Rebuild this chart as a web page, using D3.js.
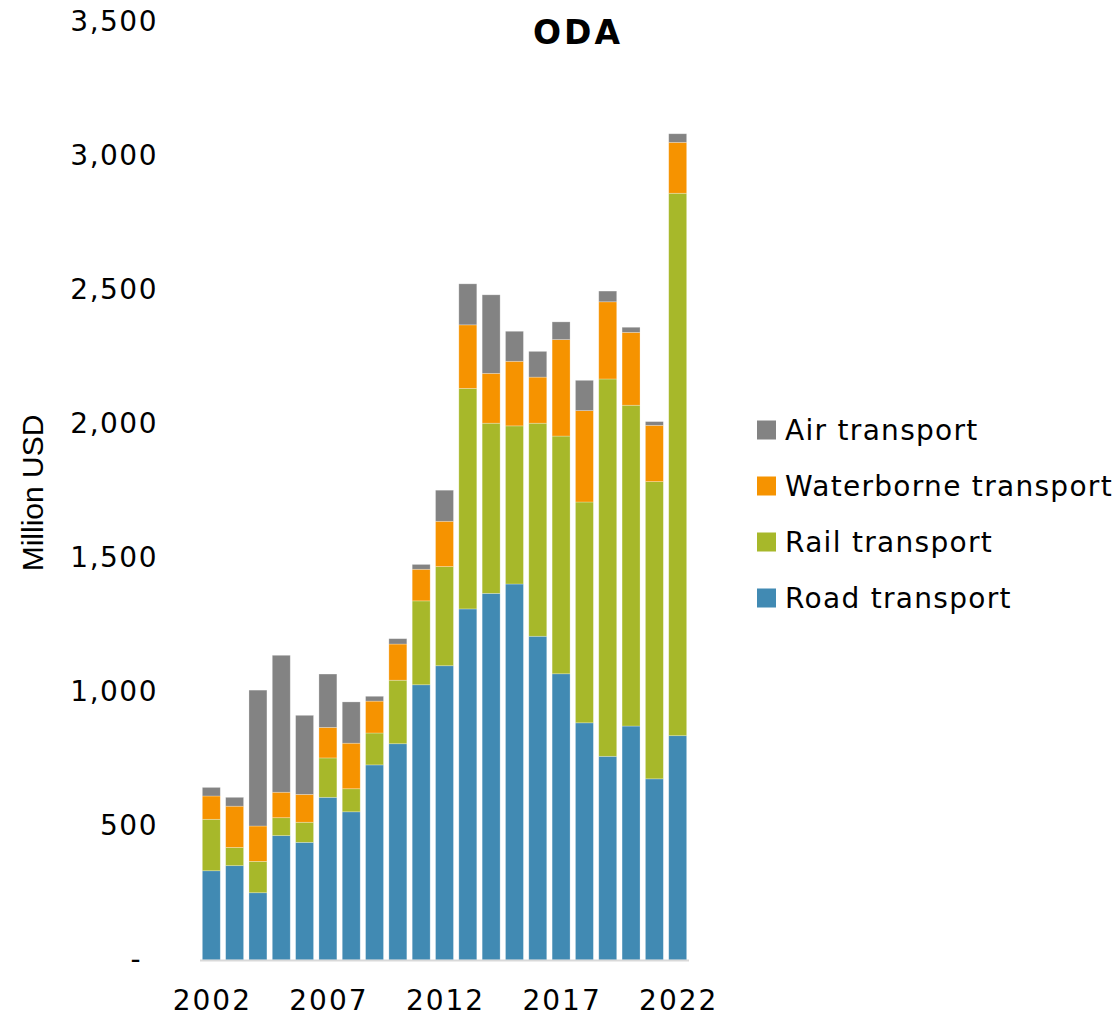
<!DOCTYPE html>
<html>
<head>
<meta charset="utf-8">
<script src="https://cdn.jsdelivr.net/npm/d3@7"></script>
<style>
  body { margin: 0; background: #fff; }
  text { font-family: "DejaVu Sans", sans-serif; fill: #000; }
</style>
</head>
<body>
<div id="chart"></div>
<script>
// Data (Million USD)
var years = ["2002", "2003", "2004", "2005", "2006", "2007", "2008", "2009", "2010", "2011",
  "2012", "2013", "2014", "2015", "2016", "2017", "2018", "2019", "2020", "2021", "2022"];
var road = [333, 352, 251, 464, 439, 607, 553, 728, 807, 1027, 1098, 1310, 1368, 1403, 1208, 1068, 885, 760, 873, 676, 837];
var rail = [192, 68, 117, 67, 75, 147, 86, 119, 237, 313, 370, 823, 635, 590, 795, 887, 824, 1408, 1197, 1109, 2024];
var water = [87, 154, 132, 95, 104, 114, 170, 119, 135, 118, 169, 237, 186, 241, 172, 360, 341, 288, 272, 210, 190];
var air = [32, 33, 507, 511, 295, 199, 154, 18, 20, 18, 116, 153, 293, 112, 96, 66, 113, 40, 19, 14, 32];

var seriesKeys = ["Road transport", "Rail transport", "Waterborne transport", "Air transport"];
var seriesColors = ["#418ab3", "#a7b82a", "#f69300", "#838383"];
var xTickLabels = ["2002", "2007", "2012", "2017", "2022"];
var yTicks = [0, 500, 1000, 1500, 2000, 2500, 3000, 3500];

var svgWidth = 1120;
var svgHeight = 1020;

var svg = d3.select("#chart").append("svg")
  .attr("width", svgWidth)
  .attr("height", svgHeight);

// build rows for the stack
var rows = years.map(function(y, i) {
  return {
    year: y,
    "Road transport": road[i],
    "Rail transport": rail[i],
    "Waterborne transport": water[i],
    "Air transport": air[i]
  };
});

var stacked = d3.stack().keys(seriesKeys)(rows);

var xScale = d3.scaleBand()
  .domain(years)
  .range([200, 689])
  .paddingInner(0.23)
  .paddingOuter(0.1);

var yScale = d3.scaleLinear()
  .domain([0, 3500])
  .range([960, 22]);

var color = d3.scaleOrdinal().domain(seriesKeys).range(seriesColors);

// bars
svg.append("g")
  .selectAll("g")
  .data(stacked)
  .enter().append("g")
  .attr("fill", d => color(d.key))
  .selectAll("rect")
  .data(d => d)
  .enter().append("rect")
  .attr("x", d => xScale(d.data.year))
  .attr("y", d => yScale(d[1]))
  .attr("width", xScale.bandwidth())
  .attr("height", d => yScale(d[0]) - yScale(d[1]))
  .attr("stroke", "#ffffff")
  .attr("stroke-opacity", 0.35)
  .attr("stroke-width", 0.75);

// x axis line
svg.append("line")
  .attr("x1", 200).attr("x2", 689)
  .attr("y1", 960.5).attr("y2", 960.5)
  .attr("stroke", "#d9d9d9")
  .attr("stroke-width", 2);

// x tick labels
var xAxis = d3.axisBottom(xScale)
  .tickValues(xTickLabels)
  .tickSize(0)
  .tickPadding(0);

var xg = svg.append("g")
  .attr("transform", "translate(0, 1000)")
  .call(xAxis);
xg.select(".domain").remove();
xg.selectAll("text")
  .attr("dy", "0.35em")
  .attr("dx", 1)
  .style("font-size", "28px")
  .style("letter-spacing", "2px")
  .style("font-family", "'DejaVu Sans', sans-serif")
  .attr("fill", "#000");

// y tick labels
var yAxis = d3.axisLeft(yScale)
  .tickValues(yTicks)
  .tickSize(0)
  .tickPadding(0)
  .tickFormat(d => d === 0 ? "-" : d3.format(",")(d));

var yg = svg.append("g")
  .attr("transform", "translate(158, 0)")
  .call(yAxis);
yg.select(".domain").remove();
yg.selectAll("text")
  .style("font-size", "28px")
  .style("letter-spacing", "1.5px")
  .style("font-family", "'DejaVu Sans', sans-serif")
  .attr("fill", "#000")
  .attr("x", d => d === 0 ? -16 : 0);

// y axis title
svg.append("text")
  .attr("transform", "translate(43, 493) rotate(-90)")
  .style("text-anchor", "middle")
  .style("font-family", "'Liberation Sans Narrow', 'Liberation Sans', sans-serif")
  .style("font-size", "30px")
  .text("Million USD");

// title
svg.append("text")
  .attr("x", 578)
  .attr("y", 44)
  .style("text-anchor", "middle")
  .style("font-size", "33px")
  .style("letter-spacing", "3px")
  .style("font-weight", "bold")
  .text("ODA");

// legend (Air on top, Road at bottom)
var legendKeys = seriesKeys.slice().reverse();
var legend = svg.append("g")
  .selectAll("g")
  .data(legendKeys)
  .enter().append("g")
  .attr("transform", (d, i) => `translate(757, ${430 + i * 56})`);

legend.append("rect")
  .attr("x", 0)
  .attr("y", -9.5)
  .attr("width", 19)
  .attr("height", 19)
  .attr("fill", d => color(d));

legend.append("text")
  .attr("x", 28)
  .attr("y", 0)
  .attr("dy", "0.35em")
  .style("font-size", "28px")
  .style("letter-spacing", "1.3px")
  .text(d => d);
</script>
</body>
</html>
